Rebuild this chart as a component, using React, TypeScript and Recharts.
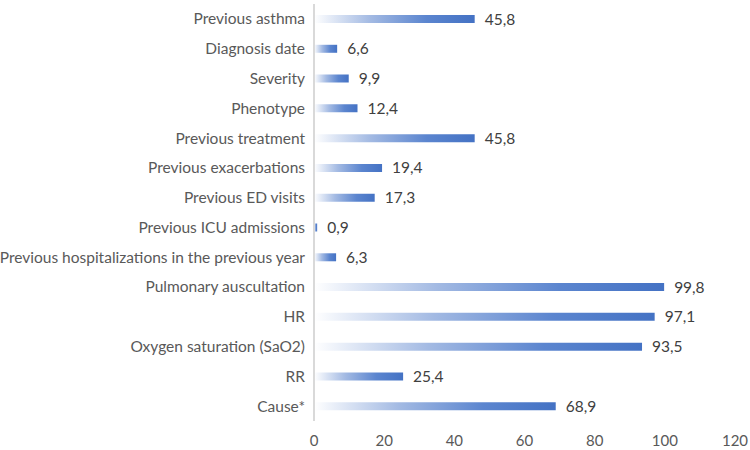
import React from 'react';
import { BarChart, Bar, XAxis, YAxis, LabelList } from 'recharts';

// Categories top to bottom, with percentage values
const categories = [
  'Previous asthma',
  'Diagnosis date',
  'Severity',
  'Phenotype',
  'Previous treatment',
  'Previous exacerbations',
  'Previous ED visits',
  'Previous ICU admissions',
  'Previous hospitalizations in the previous year',
  'Pulmonary auscultation',
  'HR',
  'Oxygen saturation (SaO2)',
  'RR',
  'Cause*',
];
const values = [45.8, 6.6, 9.9, 12.4, 45.8, 19.4, 17.3, 0.9, 6.3, 99.8, 97.1, 93.5, 25.4, 68.9];
const xTicks = [0, 20, 40, 60, 80, 100, 120];

const data = categories.map((name, i) => ({ name, value: values[i] }));

const fmt = (v: any) => String(v).replace('.', ',');

const App: React.FC = () => (
  <div style={{ position: 'absolute', left: 0, top: 0, background: '#fff' }}>
    <BarChart
      width={750}
      height={450}
      data={data}
      layout="vertical"
      margin={{ top: 4, right: 15, left: 0, bottom: 0 }}
      style={{ fontFamily: 'Lato, sans-serif' }}
    >
      <defs>
        <linearGradient id="barGrad" x1="0" y1="0" x2="1" y2="0">
          <stop offset="0%" stopColor="#ffffff" />
          <stop offset="35%" stopColor="#a3bae3" />
          <stop offset="70%" stopColor="#5b85cf" />
          <stop offset="100%" stopColor="#4472c4" />
        </linearGradient>
      </defs>
      <XAxis
        type="number"
        domain={[0, 120]}
        ticks={xTicks}
        axisLine={false}
        tickLine={false}
        tickSize={0}
        tickMargin={14}
        height={29}
        tick={{ fontSize: 15, fill: '#595959' }}
      />
      <YAxis
        type="category"
        dataKey="name"
        width={314}
        axisLine={{ stroke: '#d9d9d9', strokeWidth: 2 }}
        tickLine={false}
        tickSize={0}
        tickMargin={9}
        interval={0}
        tick={{ fontSize: 15.5, fill: '#595959' }}
      />
      <Bar dataKey="value" fill="url(#barGrad)" barSize={8} isAnimationActive={false}>
        <LabelList
          dataKey="value"
          position="right"
          offset={10}
          formatter={fmt}
          style={{ fontSize: 15.5, fill: '#404040' }}
        />
      </Bar>
    </BarChart>
  </div>
);

export default App;
